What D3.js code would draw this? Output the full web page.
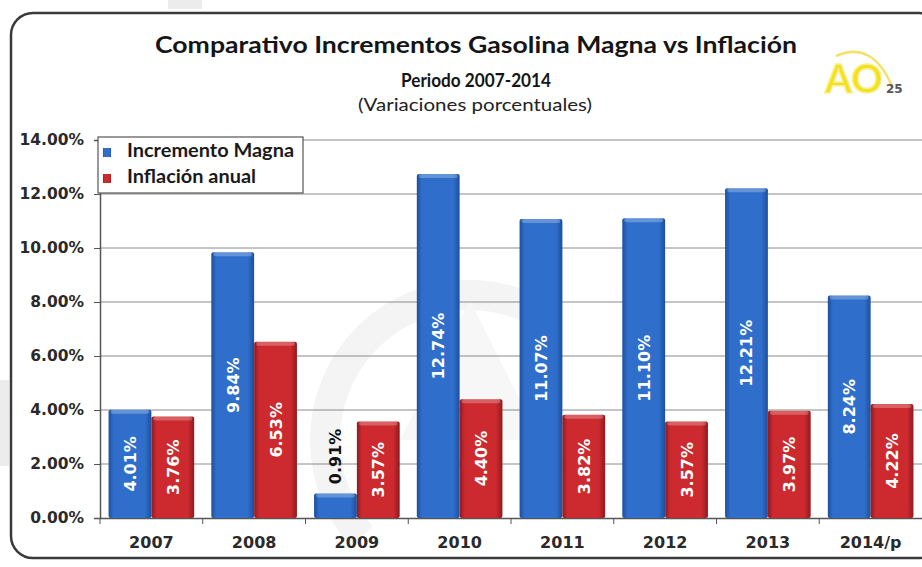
<!DOCTYPE html>
<html>
<head>
<meta charset="utf-8">
<script src="https://cdn.jsdelivr.net/npm/d3@7"></script>
<style>
  body { margin: 0; background: #fff; }
  svg { display: block; }
</style>
</head>
<body>
<div id="chart"></div>
<script>
// data
const years = ["2007", "2008", "2009", "2010", "2011", "2012", "2013", "2014/p"];
const magna = [4.01, 9.84, 0.91, 12.74, 11.07, 11.10, 12.21, 8.24];
const inflacion = [3.76, 6.53, 3.57, 4.40, 3.82, 3.57, 3.97, 4.22];
const yTicks = [0, 2, 4, 6, 8, 10, 12, 14];
const seriesNames = ["Incremento Magna", "Inflación anual"];

const W = 922, H = 567;
const plot = {left: 100, right: 922, top: 140, bottom: 518};

const svg = d3.select("#chart").append("svg")
  .attr("width", W)
  .attr("height", H);

// gradients for the bevelled bars
const defs = svg.append("defs");
function barGradient(id, edge, mid) {
  const g = defs.append("linearGradient").attr("id", id)
    .attr("x1", "0").attr("x2", "1").attr("y1", "0").attr("y2", "0");
  g.append("stop").attr("offset", "0%").attr("stop-color", edge);
  g.append("stop").attr("offset", "12%").attr("stop-color", mid);
  g.append("stop").attr("offset", "85%").attr("stop-color", mid);
  g.append("stop").attr("offset", "100%").attr("stop-color", edge);
}
barGradient("gBlue", "#1d4f9c", "#2f6fcb");
barGradient("gRed", "#8f1a1e", "#cc2a2f");
const fills = ["url(#gBlue)", "url(#gRed)"];

// faint decoration outside the frame
svg.append("g").attr("fill", "#ececec")
  .selectAll("rect")
  .data([[168, 0, 34, 9], [0, 380, 9, 86]])
  .join("rect")
  .attr("x", d => d[0]).attr("y", d => d[1])
  .attr("width", d => d[2]).attr("height", d => d[3]);

// rounded frame
svg.append("rect")
  .attr("x", 11).attr("y", 13)
  .attr("width", 930).attr("height", 545)
  .attr("rx", 22)
  .attr("fill", "#fff")
  .attr("stroke", "#3a3a3a")
  .attr("stroke-width", 2.5);

// watermark
const wm = svg.append("g");
wm.append("path")
  .attr("d", d3.arc()({innerRadius: 130, outerRadius: 160, startAngle: -2.3, endAngle: 0.6}))
  .attr("transform", "translate(470,440)")
  .attr("fill", "#f4f4f4");
wm.append("path")
  .attr("d", "M470,300 L400,440 L540,440 Z")
  .attr("fill", "#f7f7f7");

// titles
const titleFont = "Lato, 'Open Sans', sans-serif";
svg.append("text")
  .attr("x", 155).attr("y", 53)
  .attr("textLength", 642).attr("lengthAdjust", "spacingAndGlyphs")
  .style("font-family", titleFont)
  .style("font-weight", "bold")
  .style("font-size", "23px")
  .attr("fill", "#151515")
  .text("Comparativo Incrementos Gasolina Magna vs Inflación");
svg.append("text")
  .attr("x", 476).attr("y", 87)
  .attr("text-anchor", "middle")
  .attr("textLength", 150).attr("lengthAdjust", "spacingAndGlyphs")
  .style("font-family", titleFont)
  .style("font-weight", "bold")
  .style("font-size", "18px")
  .attr("fill", "#151515")
  .text("Periodo 2007-2014");
svg.append("text")
  .attr("x", 475).attr("y", 111)
  .attr("text-anchor", "middle")
  .attr("textLength", 234).attr("lengthAdjust", "spacingAndGlyphs")
  .style("font-family", titleFont)
  .style("font-size", "17.5px")
  .attr("fill", "#222")
  .text("(Variaciones porcentuales)");

// logo
const logo = svg.append("g");
logo.append("path")
  .attr("d", "M836,56 Q872,40 892,86")
  .attr("fill", "none").attr("stroke", "#f1e36a").attr("stroke-width", 2.5);
logo.append("text")
  .attr("x", 825).attr("y", 93)
  .attr("textLength", 58).attr("lengthAdjust", "spacingAndGlyphs")
  .style("font-family", "Lato, sans-serif")
  .style("font-weight", "bold")
  .style("font-size", "41px")
  .attr("fill", "#f3e01e")
  .attr("stroke", "#f8f08e").attr("stroke-width", 1.5)
  .text("AO");
logo.append("text")
  .attr("x", 886).attr("y", 93)
  .style("font-family", "'DejaVu Sans', sans-serif")
  .style("font-weight", "bold")
  .style("font-size", "12px")
  .attr("fill", "#555")
  .text("25");

// scales
const x = d3.scaleBand()
  .domain(years)
  .range([plot.left, plot.right])
  .padding(0);
const x1 = d3.scaleBand()
  .domain([0, 1])
  .range([0, x.bandwidth()])
  .paddingInner(0)
  .paddingOuter(0.2);
const y = d3.scaleLinear()
  .domain([0, 14])
  .range([plot.bottom, plot.top]);

// gridlines
svg.append("g")
  .selectAll("line")
  .data(yTicks.slice(1))
  .join("line")
  .attr("x1", plot.left).attr("x2", plot.right)
  .attr("y1", d => y(d)).attr("y2", d => y(d))
  .attr("stroke", "#8a8a8a")
  .attr("stroke-width", 1);

// y axis
const axisFont = "'DejaVu Sans', Verdana, sans-serif";
const yAxis = svg.append("g")
  .attr("transform", `translate(${plot.left},0)`)
  .call(d3.axisLeft(y).tickValues(yTicks).tickSize(6).tickPadding(10)
    .tickFormat(d => d3.format(".2f")(d) + "%"));
yAxis.select(".domain").attr("stroke", "#555").attr("stroke-width", 1.5);
yAxis.selectAll(".tick line").attr("stroke", "#555");
yAxis.selectAll("text")
  .style("font-family", axisFont)
  .style("font-weight", "bold")
  .style("font-size", "15.5px")
  .attr("fill", "#2a2a2a");

// x axis
const xAxis = svg.append("g")
  .attr("transform", `translate(0,${plot.bottom})`)
  .call(d3.axisBottom(x).tickSize(0).tickPadding(19));
xAxis.select(".domain").attr("stroke", "#555").attr("stroke-width", 1.5);
xAxis.selectAll("text")
  .style("font-family", axisFont)
  .style("font-weight", "bold")
  .style("font-size", "16px")
  .attr("fill", "#2a2a2a");
svg.append("g")
  .selectAll("line")
  .data(years)
  .join("line")
  .attr("x1", d => x(d)).attr("x2", d => x(d))
  .attr("y1", plot.bottom).attr("y2", plot.bottom + 6)
  .attr("stroke", "#555");

// bars
const rows = years.map((yr, i) => ({year: yr, vals: [magna[i], inflacion[i]]}));
const groups = svg.append("g")
  .selectAll("g")
  .data(rows)
  .join("g")
  .attr("transform", d => `translate(${x(d.year)},0)`);

groups.selectAll("rect.bar")
  .data(d => d.vals.map((v, k) => ({v, k})))
  .join("rect")
  .attr("class", "bar")
  .attr("x", d => x1(d.k))
  .attr("y", d => y(d.v))
  .attr("width", x1.bandwidth())
  .attr("height", d => y(0) - y(d.v))
  .attr("rx", 2)
  .attr("fill", d => fills[d.k]);

// top bevel highlight
groups.selectAll("rect.top")
  .data(d => d.vals.map((v, k) => ({v, k})))
  .join("rect")
  .attr("class", "top")
  .attr("x", d => x1(d.k) + 2)
  .attr("y", d => y(d.v))
  .attr("width", x1.bandwidth() - 4)
  .attr("height", 4)
  .attr("rx", 2)
  .attr("fill", "#fff")
  .attr("opacity", 0.25);

// value labels, rotated; short bars get theirs above the bar
const fits = v => y(0) - y(v) > 70;
groups.selectAll("text.lbl")
  .data(d => d.vals.map((v, k) => ({v, k})))
  .join("text")
  .attr("class", "lbl")
  .attr("transform", d => {
    const cx = x1(d.k) + x1.bandwidth() / 2;
    const cy = fits(d.v) ? (y(d.v) + y(0)) / 2 : y(d.v) - 37;
    return `translate(${cx + 6},${cy}) rotate(-90)`;
  })
  .attr("text-anchor", "middle")
  .style("font-family", axisFont)
  .style("font-weight", "bold")
  .style("font-size", "16px")
  .attr("fill", d => fits(d.v) ? "#fff" : "#111")
  .text(d => d3.format(".2f")(d.v) + "%");

// legend
const leg = svg.append("g").attr("transform", "translate(98,137)");
leg.append("rect")
  .attr("width", 205).attr("height", 56)
  .attr("fill", "#fff")
  .attr("stroke", "#555").attr("stroke-width", 1.2);
const items = leg.selectAll("g.item")
  .data(seriesNames)
  .join("g")
  .attr("class", "item")
  .attr("transform", (d, i) => `translate(5,${20 + i * 26})`);
items.append("rect")
  .attr("x", 0).attr("y", -9)
  .attr("width", 8).attr("height", 9)
  .attr("fill", (d, i) => fills[i]);
items.append("text")
  .attr("x", 24).attr("y", 0)
  .attr("textLength", (d, i) => [167, 129][i])
  .attr("lengthAdjust", "spacingAndGlyphs")
  .style("font-family", titleFont)
  .style("font-weight", "bold")
  .style("font-size", "18px")
  .attr("fill", "#1a1a1a")
  .text(d => d);
</script>
</body>
</html>
